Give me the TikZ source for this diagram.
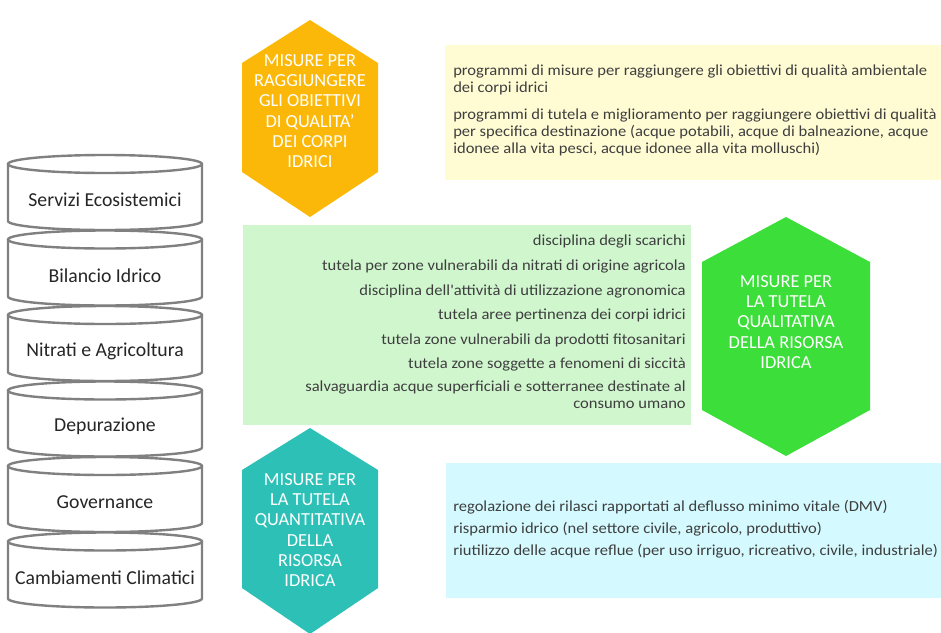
\documentclass[tikz,border=0pt]{standalone}
\usepackage{fontspec}
\setmainfont{Carlito}
\newfontfamily\boxfont{Carlito}[FakeStretch=1.08]
\definecolor{hexorange}{RGB}{252,184,8}
\definecolor{hexgreen}{RGB}{60,222,58}
\definecolor{hexteal}{RGB}{44,192,182}
\definecolor{boxyellow}{RGB}{255,252,212}
\definecolor{boxgreen}{RGB}{208,246,206}
\definecolor{boxcyan}{RGB}{212,250,255}
\definecolor{cylgrey}{RGB}{128,128,128}
\definecolor{textgrey}{RGB}{62,62,62}
\tikzset{
  cylline/.style  = {draw=cylgrey, line width=1.8pt, fill=white},
  cyltext/.style  = {font=\fontsize{14.8}{16}\selectfont, text=black!85},
  hexlabel/.style = {align=center, text=white, font=\fontsize{13.8}{15.2}\selectfont},
  boxtext/.style  = {text=textgrey, inner sep=0pt,
                     font=\boxfont\fontsize{11.5}{12.75}\selectfont}
}

\begin{document}
\begin{tikzpicture}[x=0.75pt, y=-0.75pt]
  \useasboundingbox (0,0) rectangle (941,632);

  % pila di cilindri
  \foreach \lab [count=\i from 0] in {Servizi Ecosistemici, Bilancio Idrico,
      Nitrati e Agricoltura, Depurazione, Governance, Cambiamenti Climatici}
  {
    \pgfmathsetmacro\cyltop{155+75.5*\i}
    \filldraw[cylline] (8,\cyltop+9) -- (8,\cyltop+66)
      arc[start angle=180, end angle=0, x radius=97, y radius=9]
      -- (202,\cyltop+9);
    \draw[cylline] (105,\cyltop+9) ellipse[x radius=97, y radius=9];
    \node[cyltext] (cyl\i) at (105,\cyltop+45) {\lab};
  }

  % riquadri
  \fill[boxyellow] (445,45) rectangle (941,180);
  \fill[boxgreen] (243,225) rectangle (691,425);
  \fill[boxcyan] (446,463) rectangle (941,598);

  % esagoni
  \fill[hexorange] (310,20) -- (378,63) -- (378,172) -- (310,217)
    -- (242,172) -- (242,63) -- cycle;
  \fill[hexgreen] (786,217) -- (870,262) -- (870,410) -- (786,456)
    -- (702,410) -- (702,262) -- cycle;
  \fill[hexteal] (310,428) -- (378,470) -- (378,588) -- (310,634)
    -- (242,588) -- (242,470) -- cycle;

  \node[hexlabel] (qualita) at (310,111)
    {MISURE PER\\RAGGIUNGERE\\GLI OBIETTIVI\\DI QUALITA'\\DEI CORPI\\IDRICI};
  \node[hexlabel] (qualitativa) at (786,322)
    {MISURE PER\\LA TUTELA\\QUALITATIVA\\DELLA RISORSA\\IDRICA};
  \node[hexlabel] (quantitativa) at (310,530)
    {MISURE PER\\LA TUTELA\\QUANTITATIVA\\DELLA\\RISORSA\\IDRICA};

  % testo riquadro giallo
  \node[boxtext, anchor=north west, align=left] (prog1) at (453,65)
    {programmi di misure per raggiungere gli obiettivi di qualità ambientale\\
     dei corpi idrici};
  \node[boxtext, anchor=north west, align=left] (prog2) at (453,109)
    {programmi di tutela e miglioramento per raggiungere obiettivi di qualità\\
     per specifica destinazione (acque potabili, acque di balneazione, acque\\
     idonee alla vita pesci, acque idonee alla vita molluschi)};

  % testo riquadro verde
  \node[boxtext, anchor=east] (scarichi) at (686,241) {disciplina degli scarichi};
  \node[boxtext, anchor=east] (nitrati) at (686,266)
    {tutela per zone vulnerabili da nitrati di origine agricola};
  \node[boxtext, anchor=east] (agronomica) at (686,291)
    {disciplina dell'attività di utilizzazione agronomica};
  \node[boxtext, anchor=east] (pertinenza) at (686,315)
    {tutela aree pertinenza dei corpi idrici};
  \node[boxtext, anchor=east] (fitosanitari) at (686,340)
    {tutela zone vulnerabili da prodotti fitosanitari};
  \node[boxtext, anchor=east] (siccita) at (686,364)
    {tutela zone soggette a fenomeni di siccità};
  \node[boxtext, anchor=north east, align=right] (consumo) at (686,381)
    {salvaguardia acque superficiali e sotterranee destinate al\\
     consumo umano};

  % testo riquadro azzurro
  \node[boxtext, anchor=west] (dmv) at (453,507)
    {regolazione dei rilasci rapportati al deflusso minimo vitale (DMV)};
  \node[boxtext, anchor=west] (risparmio) at (453,529)
    {risparmio idrico (nel settore civile, agricolo, produttivo)};
  \node[boxtext, anchor=west] (reflue) at (453,551)
    {riutilizzo delle acque reflue (per uso irriguo, ricreativo, civile, industriale)};
\end{tikzpicture}
\end{document}
